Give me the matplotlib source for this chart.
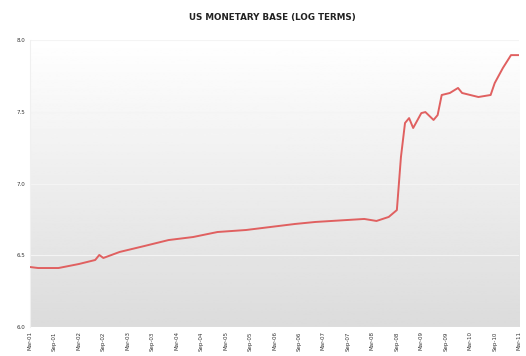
import numpy as np
import pandas as pd
import matplotlib
matplotlib.use("Agg")
import matplotlib.pyplot as plt

# ── Data: log of the US monetary base, sampled by month ─────────────────────

start_month = "2001-03"
month_offset = [0, 2, 7, 12, 16, 17, 18, 22, 28, 34, 40, 46, 53, 61, 65, 70,
                78, 82, 85, 88, 90, 91, 92, 93, 94, 96, 97, 99, 100, 101, 103,
                105, 106, 110, 113, 114, 116, 118, 120]
log_base = [6.418, 6.411, 6.411, 6.439, 6.467, 6.502, 6.481, 6.523, 6.564,
            6.606, 6.627, 6.662, 6.676, 6.704, 6.718, 6.732, 6.746, 6.753,
            6.739, 6.767, 6.815, 7.185, 7.422, 7.456, 7.387, 7.491, 7.498,
            7.443, 7.477, 7.617, 7.631, 7.666, 7.631, 7.603, 7.617, 7.700,
            7.805, 7.895, 7.895]

tick_step = 6
n_ticks = 21
months = pd.period_range(start_month, periods=tick_step * (n_ticks - 1) + 1, freq="M")
tick_pos = np.arange(n_ticks) * tick_step
tick_labels = [months[i].strftime("%b-%y") for i in tick_pos]

y_ticks = [6.0, 6.5, 7.0, 7.5, 8.0]

# ── Plot ────────────────────────────────────────────────────────────────────

fig = plt.figure(figsize=(5.26, 3.56), dpi=100)
ax = fig.add_axes([0.057, 0.0815, 0.930, 0.806])

# grey-to-white backdrop
grad = np.linspace(0.86, 1.0, 256).reshape(-1, 1)
ax.imshow(grad, cmap="gray", vmin=0, vmax=1, aspect="auto",
          extent=[0, 1, 0, 1], transform=ax.transAxes, origin="lower", zorder=0)

for y in y_ticks:
    ax.axhline(y, color="#f4f4f4", linewidth=0.8, zorder=1)

ax.plot(month_offset, log_base, color="#e06060", linewidth=1.4,
        solid_joinstyle="round", zorder=3)

ax.set_xlim(0, tick_pos[-1])
ax.set_ylim(6.0, 8.0)
ax.set_yticks(y_ticks)
ax.set_yticklabels([f"{v:.1f}" for v in y_ticks], fontsize=4, color="#333333")
ax.set_xticks(tick_pos)
ax.set_xticklabels(tick_labels, rotation=90, fontsize=4, color="#333333")
ax.tick_params(length=0, pad=3)

for side in ["top", "right", "bottom"]:
    ax.spines[side].set_visible(False)
ax.spines["left"].set_color("#f0f0f0")

fig.text(0.517, 0.952, "US MONETARY BASE (LOG TERMS)", ha="center", va="center",
         fontsize=6.3, fontweight="bold", color="#222222")

fig.savefig("out.png", dpi=100)
